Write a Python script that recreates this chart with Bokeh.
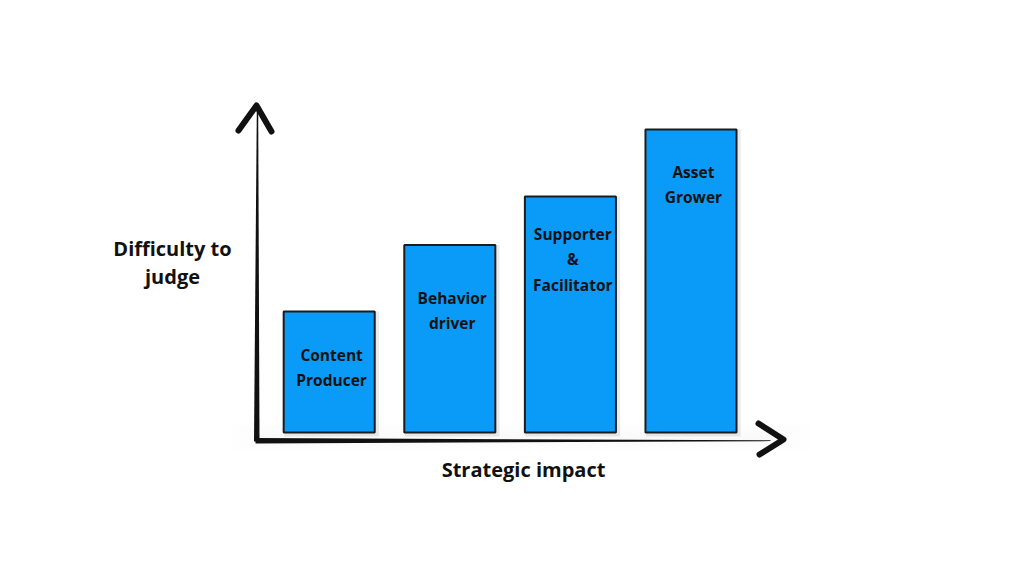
from bokeh.plotting import figure
from bokeh.models import Range1d, ColumnDataSource
from bokeh.core.properties import value
from bokeh.embed import file_html
from bokeh.resources import INLINE

# ---- data ----
categories = ["Content Producer", "Behavior driver", "Supporter & Facilitator", "Asset Grower"]
label_lines = [["Content", "Producer"], ["Behavior", "driver"],
               ["Supporter", "&", "Facilitator"], ["Asset", "Grower"]]
difficulty = [1.21, 1.875, 2.36, 3.03]
x_title = "Strategic impact"
y_title = ["Difficulty to", "judge"]

# ---- layout (reference pixel -> data helpers for decorations) ----
X0, SX = 328.7, 120.6      # px of first bar centre, px per category step
Y0, SY = 432.0, 100.0      # px of baseline, px per value unit
def dx(X): return (X - X0) / SX
def dy(Y): return (Y0 - Y) / SY

BAR_W = 0.755
label_offset = [0.43, 0.525, 0.37, 0.42]
line_gap = 0.255
ink = "#111111"

p = figure(width=1008, height=560, output_backend="svg", toolbar_location=None,
           x_range=Range1d(dx(0), dx(1008)), y_range=Range1d(dy(560), dy(0)),
           x_axis_location=None, y_axis_location=None, min_border=0,
           background_fill_color="white", border_fill_color="white")
p.outline_line_color = None
p.grid.visible = False

xs = list(range(len(categories)))

# very soft haze near the baseline
for k in range(6):
    p.quad(left=[dx(230 + k * 8)], right=[dx(810 - k * 10)],
           bottom=[dy(450 - k * 2)], top=[dy(422 + k * 3)],
           fill_color="#999999", fill_alpha=0.012, line_color=None)

# bar shadows
src_sh = ColumnDataSource(dict(x=[x + 0.02 for x in xs], top=difficulty))
p.vbar(x="x", top="top", bottom=dy(436), width=BAR_W + 0.03, source=src_sh,
       fill_color="#777777", fill_alpha=0.15, line_color=None)

# bars
src = ColumnDataSource(dict(x=xs, top=difficulty, cat=categories))
p.vbar(x="x", top="top", bottom=0, width=BAR_W, source=src,
       fill_color="#0A9BF8", line_color="#1c1c1c", line_width=2)

# labels inside bars
tx, ty, tt = [], [], []
for i, lines in enumerate(label_lines):
    for j, s in enumerate(lines):
        tx.append(xs[i] + 0.02)
        ty.append(difficulty[i] - label_offset[i] - j * line_gap)
        tt.append(s)
p.text(x=tx, y=ty, text=tt, text_font=value("Open Sans"), text_font_style="bold",
       text_font_size="15.5px", text_align="center", text_baseline="middle",
       text_color=ink)

# y axis (tapered stroke) + chevron
p.patch(x=[dx(253.5), dx(256.3), dx(257.7), dx(259)],
        y=[dy(441), dy(110), dy(110), dy(441)], fill_color=ink, line_color=None)
p.line(x=[dx(238), dx(256), dx(271)], y=[dy(130), dy(105), dy(131)],
       line_color=ink, line_width=6, line_cap="round", line_join="round")

# x axis (tapered stroke) + chevron
p.patch(x=[dx(255), dx(770), dx(770), dx(255)],
        y=[dy(437.5), dy(439.8), dy(440.6), dy(443)], fill_color=ink, line_color=None)
p.line(x=[dx(758), dx(783), dx(759)], y=[dy(423), dy(439), dy(454)],
       line_color=ink, line_width=6, line_cap="round", line_join="round")

# axis titles
p.text(x=[dx(523)], y=[dy(469)], text=[x_title], text_font=value("Open Sans"),
       text_font_style="bold", text_font_size="20px", text_align="center",
       text_baseline="middle", text_color=ink)
p.text(x=[dx(172), dx(172)], y=[dy(248), dy(276)], text=y_title,
       text_font=value("Open Sans"), text_font_style="bold", text_font_size="20px",
       text_align="center", text_baseline="middle", text_color=ink)

open("out.html", "w").write(file_html(p, INLINE))
